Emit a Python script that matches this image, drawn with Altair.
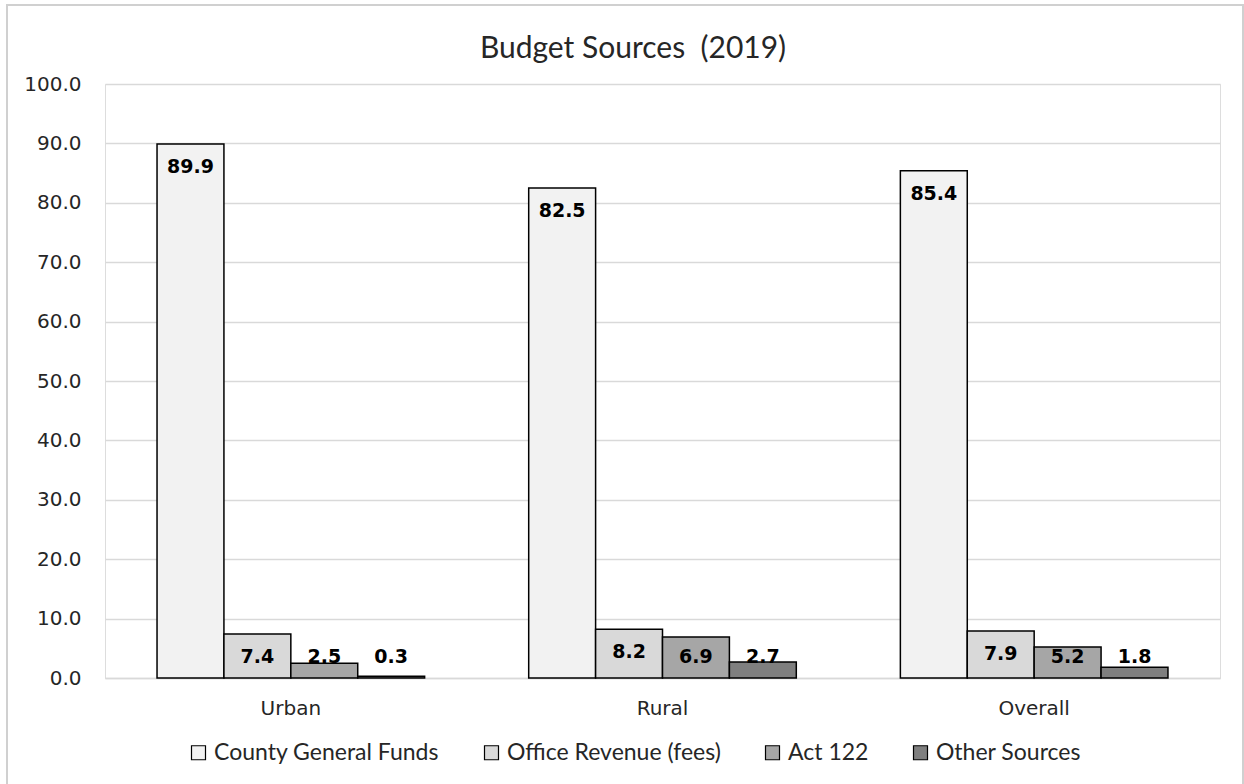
import altair as alt
import pandas as pd

groups = ["Urban", "Rural", "Overall"]
sources = ["County General Funds", "Office Revenue (fees)", "Act 122", "Other Sources"]
county_general = [89.9, 82.5, 85.4]
office_revenue = [7.4, 8.2, 7.9]
act_122 = [2.5, 6.9, 5.2]
other_sources = [0.3, 2.7, 1.8]
colors = ["#f2f2f2", "#d9d9d9", "#a6a6a6", "#7f7f7f"]
y_ticks = [0, 10, 20, 30, 40, 50, 60, 70, 80, 90, 100]

series = [county_general, office_revenue, act_122, other_sources]
rows = []
for si, (src, vals) in enumerate(zip(sources, series)):
    for gi, g in enumerate(groups):
        rows.append({"group": g, "source": src, "order": si, "value": vals[gi]})
df = pd.DataFrame(rows)

W, H = 1115, 594
LEFT, TOP = 105, 84

base = alt.Chart(df).encode(
    x=alt.X("group:N", sort=groups, title=None,
            scale=alt.Scale(paddingInner=0.28, paddingOuter=0.14),
            axis=alt.Axis(labelAngle=0, labelFont="DejaVu Sans", labelFontSize=20,
                          labelColor="#262626", labelPadding=20, ticks=False,
                          domainColor="#d9d9d9", domainWidth=1.5, grid=False)),
    xOffset=alt.XOffset("source:N", sort=sources, scale=alt.Scale(paddingInner=0, paddingOuter=0)),
)

bars = base.mark_bar(stroke="black", strokeWidth=1.5).encode(
    y=alt.Y("value:Q", title=None,
            scale=alt.Scale(domain=[0, 100], nice=False),
            axis=alt.Axis(values=y_ticks, format=".1f", labelFont="DejaVu Sans",
                          labelFontSize=20, labelColor="#262626", labelPadding=24,
                          ticks=False, domain=False, grid=True, gridColor="#d9d9d9",
                          gridWidth=1.5)),
    color=alt.Color("source:N", sort=sources,
                    scale=alt.Scale(domain=sources, range=colors),
                    legend=alt.Legend(title=None, orient="none", direction="horizontal",
                                      legendX=82, legendY=657,
                                      symbolType="square", symbolSize=196,
                                      symbolStrokeColor="black", symbolStrokeWidth=1.2,
                                      symbolOpacity=1, labelLimit=0,
                                      labelFont="Lato", labelFontSize=23,
                                      labelColor="#262626", columnPadding=40,
                                      labelOffset=4)),
)

labels = base.transform_calculate(
    ly="max(datum.value - 3.9, 3.5)"
).mark_text(font="DejaVu Sans", fontSize=19, fontWeight="bold",
            color="black", baseline="middle").encode(
    y=alt.Y("ly:Q"),
    text=alt.Text("value:Q", format=".1f"),
)

frame = alt.Chart(pd.DataFrame({"k": [0]})).mark_rect(
    fill=None, stroke="#d0d0d0", strokeWidth=2
).encode(
    x=alt.value(7 - LEFT), x2=alt.value(1243 - LEFT),
    y=alt.value(5 - TOP), y2=alt.value(800 - TOP),
)

chart = alt.layer(frame, bars, labels).properties(
    width=W, height=H,
    title=alt.TitleParams("Budget Sources\u00a0\u00a0(2019)", font="Lato", fontSize=30,
                          fontWeight="normal", color="#262626", anchor="middle",
                          frame="bounds", baseline="middle", offset=-75, dx=8),
    padding={"left": LEFT, "top": TOP, "right": 1244 - LEFT - W, "bottom": 784 - TOP - H},
    autosize=alt.AutoSizeParams(type="none"),
).configure_view(stroke=None).configure(background="white")

chart.save("out.html", embed_options={"renderer": "svg", "actions": False})
